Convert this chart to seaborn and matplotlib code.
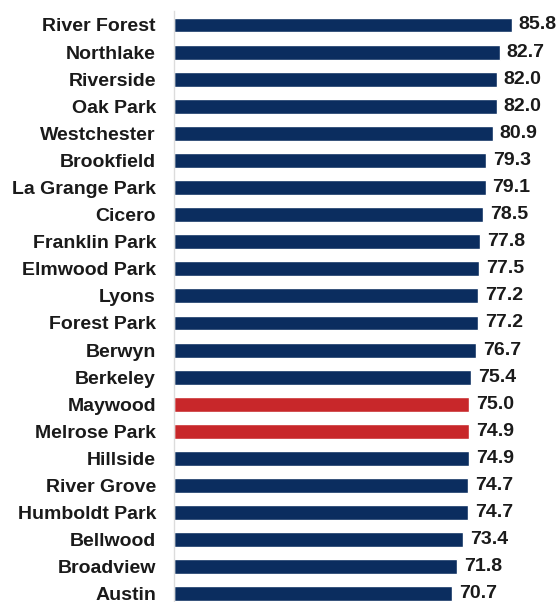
import matplotlib
matplotlib.use("Agg")
import matplotlib.pyplot as plt
import seaborn as sns
import pandas as pd

places = ["River Forest", "Northlake", "Riverside", "Oak Park", "Westchester",
          "Brookfield", "La Grange Park", "Cicero", "Franklin Park", "Elmwood Park",
          "Lyons", "Forest Park", "Berwyn", "Berkeley", "Maywood", "Melrose Park",
          "Hillside", "River Grove", "Humboldt Park", "Bellwood", "Broadview", "Austin"]
scores = [85.8, 82.7, 82.0, 82.0, 80.9, 79.3, 79.1, 78.5, 77.8, 77.5,
          77.2, 77.2, 76.7, 75.4, 75.0, 74.9, 74.9, 74.7, 74.7, 73.4, 71.8, 70.7]
highlight = ["Maywood", "Melrose Park"]

NAVY = "#0b2d5f"
RED = "#c8272a"

sns.set_theme(style="white")
plt.rcParams['font.family'] = ['Liberation Sans', 'DejaVu Sans']

df = pd.DataFrame({
    "place": places,
    "score": scores,
    "group": ["hi" if p in highlight else "base" for p in places],
})

fig = plt.figure(figsize=(5.56, 6.02), dpi=100)
ax = fig.add_axes([174 / 556, -0.009, 1 - 174 / 556, 0.990])
sns.barplot(data=df, y="place", x="score", hue="group", order=places,
            palette={"base": NAVY, "hi": RED}, width=0.55, dodge=False,
            legend=False, saturation=1, ax=ax)

for cont in ax.containers:
    ax.bar_label(cont, fmt="%.1f", padding=5, fontsize=14, fontweight="bold",
                 color="#1a1a1a")

ax.set_xlim(0, 97)
ax.set_xticks([])
ax.set_xlabel("")
ax.set_ylabel("")
ax.tick_params(axis="y", length=0, pad=13)
for lab in ax.get_yticklabels():
    lab.set_fontsize(14)
    lab.set_fontweight("bold")
    lab.set_color("#1a1a1a")
for s in ["top", "right", "bottom"]:
    ax.spines[s].set_visible(False)
ax.spines["left"].set_color("#dcdcdc")
ax.spines["left"].set_linewidth(1)

fig.savefig("out.png", dpi=100)
